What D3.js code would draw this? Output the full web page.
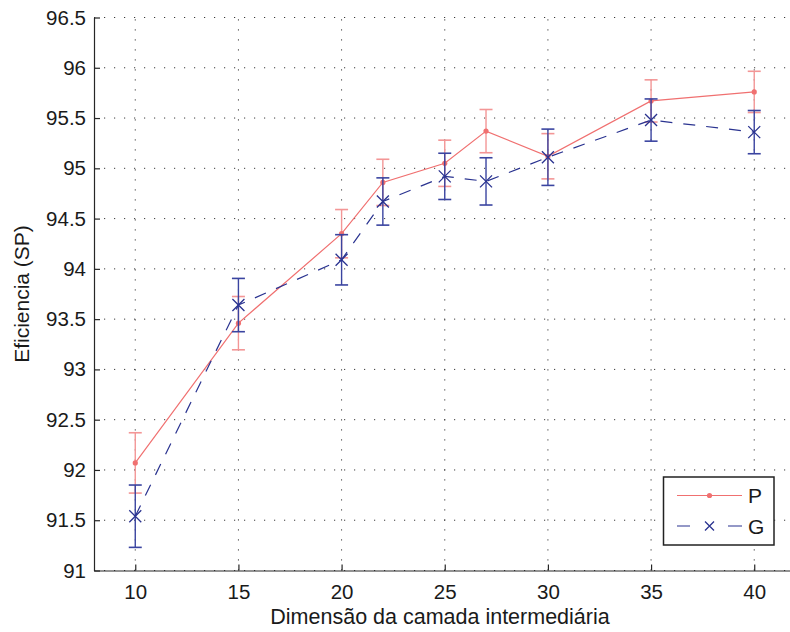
<!DOCTYPE html>
<html>
<head>
<meta charset="utf-8">
<script src="https://cdn.jsdelivr.net/npm/d3@7/dist/d3.min.js"></script>
<style>
  html, body { margin: 0; padding: 0; background: #fff; }
  svg { display: block; font-family: "Liberation Sans", Arial, Helvetica, sans-serif; }
</style>
</head>
<body>
<svg id="chart" width="790" height="632"></svg>
<script>
// Hidden layer sizes
const dims = [10, 15, 20, 22, 25, 27, 30, 35, 40];

// Series P: mean efficiency and error half-width
const pMean = [92.07, 93.46, 94.35, 94.86, 95.05, 95.37, 95.12, 95.67, 95.76];
const pErr  = [0.30, 0.265, 0.24, 0.23, 0.23, 0.215, 0.225, 0.21, 0.205];

// Series G: mean efficiency and error half-width
const gMean = [91.54, 93.64, 94.09, 94.67, 94.92, 94.87, 95.11, 95.48, 95.36];
const gErr  = [0.31, 0.265, 0.25, 0.235, 0.23, 0.235, 0.28, 0.21, 0.215];

const xTicks = [10, 15, 20, 25, 30, 35, 40];
const yTicks = [91, 91.5, 92, 92.5, 93, 93.5, 94, 94.5, 95, 95.5, 96, 96.5];

const seriesNames = ["P", "G"];

const svg = d3.select("#chart");

const x = d3.scaleLinear().domain([8, 42]).range([94, 795.5]);
const y = d3.scaleLinear().domain([91, 96.5]).range([570.5, 17.5]);

const fontSize = 20.5;
const axisColor = "#262626";

// Dotted grid
const grid = svg.append("g");
grid.selectAll("line.gx").data(xTicks).join("line")
  .attr("x1", d => x(d)).attr("x2", d => x(d))
  .attr("y1", y(91)).attr("y2", y(96.5))
  .attr("stroke", "#3a3a3a").attr("stroke-width", 1)
  .attr("stroke-dasharray", "1.2,8.8");
grid.selectAll("line.gy").data(yTicks).join("line")
  .attr("x1", x(8)).attr("x2", 795)
  .attr("y1", d => y(d)).attr("y2", d => y(d))
  .attr("stroke", "#3a3a3a").attr("stroke-width", 1)
  .attr("stroke-dasharray", "1.2,8.8");

// Axes with inward ticks
const yAxis = d3.axisLeft(y).tickValues(yTicks).tickSizeInner(-6).tickSizeOuter(0)
  .tickPadding(8).tickFormat(d3.format("~g"));
const gy = svg.append("g").attr("transform", `translate(${x(8)},0)`).call(yAxis);
const xAxis = d3.axisBottom(x).tickValues(xTicks).tickSizeInner(-6).tickSizeOuter(0)
  .tickPadding(14);
const gx = svg.append("g").attr("transform", `translate(0,${y(91)})`).call(xAxis);

[gx, gy].forEach(g => {
  g.select(".domain").attr("stroke", axisColor).attr("stroke-width", 1.2);
  g.selectAll(".tick line").attr("stroke", axisColor).attr("stroke-width", 1.2);
  g.selectAll(".tick text").attr("fill", "#1a1a1a")
    .style("font-size", fontSize + "px")
    .style("font-family", "'Liberation Sans', Arial, Helvetica, sans-serif");
});

// Axis titles
svg.append("text")
  .attr("x", 440).attr("y", 624)
  .attr("text-anchor", "middle")
  .attr("fill", "#1a1a1a")
  .style("font-size", "21.5px")
  .text("Dimensão da camada intermediária");

svg.append("text")
  .attr("transform", `translate(29,${y(93.75)}) rotate(-90)`)
  .attr("text-anchor", "middle")
  .attr("fill", "#1a1a1a")
  .style("font-size", "21px")
  .text("Eficiencia (SP)");

// Error bars, lines and markers
function drawSeries(mean, err, lineColor, barColor, dash, marker) {
  const rows = dims.map((d, i) => ({ x: d, m: mean[i], e: err[i] }));
  const g = svg.append("g");
  const cap = 6.5;

  const bars = g.selectAll("g.bar").data(rows).join("g");
  bars.append("line")
    .attr("x1", d => x(d.x)).attr("x2", d => x(d.x))
    .attr("y1", d => y(d.m - d.e)).attr("y2", d => y(d.m + d.e))
    .attr("stroke", barColor).attr("stroke-width", 1.4);
  bars.append("line")
    .attr("x1", d => x(d.x) - cap).attr("x2", d => x(d.x) + cap)
    .attr("y1", d => y(d.m + d.e)).attr("y2", d => y(d.m + d.e))
    .attr("stroke", barColor).attr("stroke-width", 1.6);
  bars.append("line")
    .attr("x1", d => x(d.x) - cap).attr("x2", d => x(d.x) + cap)
    .attr("y1", d => y(d.m - d.e)).attr("y2", d => y(d.m - d.e))
    .attr("stroke", barColor).attr("stroke-width", 1.6);

  const line = d3.line().x(d => x(d.x)).y(d => y(d.m));
  g.append("path").datum(rows)
    .attr("d", line)
    .attr("fill", "none")
    .attr("stroke", lineColor)
    .attr("stroke-width", 1.2)
    .attr("stroke-dasharray", dash);

  g.selectAll("g.mk").data(rows).join("g")
    .attr("transform", d => `translate(${x(d.x)},${y(d.m)})`)
    .each(function () { marker(d3.select(this), 6); });
}

const redLine = "#f07070";
const redBar = "#f39696";
const blueLine = "#2a3390";
const blueBar = "#3a44a0";

function dotMarker(sel) {
  sel.append("circle").attr("r", 2.6).attr("fill", redLine);
}
function xMarker(sel, s) {
  sel.append("path")
    .attr("d", `M${-s},${-s}L${s},${s}M${-s},${s}L${s},${-s}`)
    .attr("stroke", blueLine).attr("stroke-width", 1.3).attr("fill", "none");
}

drawSeries(pMean, pErr, redLine, redBar, null, dotMarker);
drawSeries(gMean, gErr, blueLine, blueBar, "12,11", xMarker);

// Legend
const lg = svg.append("g");
lg.append("rect")
  .attr("x", 663.5).attr("y", 477).attr("width", 110.5).attr("height", 68)
  .attr("fill", "#fff").attr("stroke", "#222").attr("stroke-width", 1.5);

const legendRows = [
  { name: seriesNames[0], yy: 495.5, color: redLine, dash: null, marker: dotMarker },
  { name: seriesNames[1], yy: 526, color: blueLine, dash: "13,38,14", marker: xMarker }
];
legendRows.forEach(r => {
  lg.append("line")
    .attr("x1", 677).attr("x2", 742).attr("y1", r.yy).attr("y2", r.yy)
    .attr("stroke", r.color).attr("stroke-width", 1.2)
    .attr("stroke-dasharray", r.dash);
  const m = lg.append("g").attr("transform", `translate(709.5,${r.yy})`);
  r.marker(m, 4.5);
  lg.append("text")
    .attr("x", 748).attr("y", r.yy + 7.5)
    .attr("fill", "#1a1a1a")
    .style("font-size", "21px")
    .text(r.name);
});
</script>
</body>
</html>
